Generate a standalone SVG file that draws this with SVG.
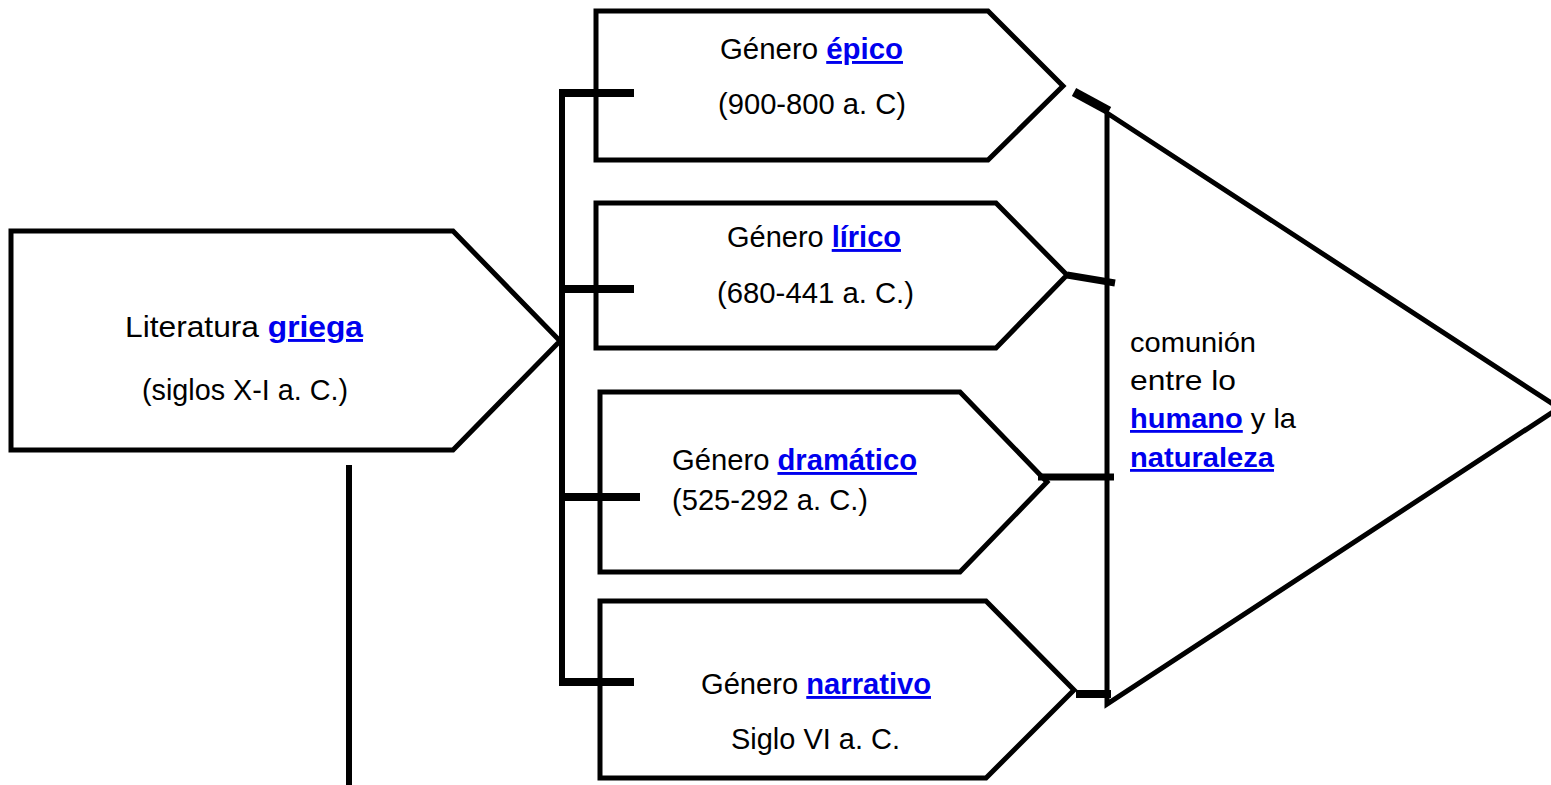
<svg xmlns="http://www.w3.org/2000/svg" width="1551" height="785" viewBox="0 0 1551 785">
<style>
.box{fill:#fff;stroke:#000;stroke-width:5;stroke-linejoin:miter}
.t{font-family:"Liberation Sans",Arial,sans-serif;font-size:29px;fill:#000}
.r{font-family:"Liberation Sans",Arial,sans-serif;font-size:28px;fill:#000}
.lnk{fill:#0000ee;font-weight:bold;text-decoration:underline}
.bus{stroke:#000;stroke-width:6;fill:none}
.tick{stroke:#000;stroke-width:8;fill:none}
</style>
<rect width="1551" height="785" fill="#fff"/>
<g id="node-griega">
<path class="box" d="M11,231 L453,231 L560,341 L453,450 L11,450 Z"/>
<text class="t" x="125" y="337" textLength="238" lengthAdjust="spacingAndGlyphs">Literatura <tspan class="lnk">griega</tspan></text>
<text class="t" x="142" y="400" textLength="206" lengthAdjust="spacingAndGlyphs">(siglos X-I a. C.)</text>
</g>
<g id="node-epico">
<path class="box" d="M596,11 L988,11 L1063,86 L988,160 L596,160 Z"/>
<text class="t" x="720" y="59" textLength="183" lengthAdjust="spacingAndGlyphs">Género <tspan class="lnk">épico</tspan></text>
<text class="t" x="718" y="114" textLength="188" lengthAdjust="spacingAndGlyphs">(900-800 a. C)</text>
</g>
<g id="node-lirico">
<path class="box" d="M596,203 L996,203 L1067,275 L996,348 L596,348 Z"/>
<text class="t" x="727" y="247" textLength="174" lengthAdjust="spacingAndGlyphs">Género <tspan class="lnk">lírico</tspan></text>
<text class="t" x="717" y="303" textLength="197" lengthAdjust="spacingAndGlyphs">(680-441 a. C.)</text>
</g>
<g id="node-dramatico">
<path class="box" d="M600,392 L960,392 L1047,482 L960,572 L600,572 Z"/>
<text class="t" x="672" y="470" textLength="245" lengthAdjust="spacingAndGlyphs">Género <tspan class="lnk">dramático</tspan></text>
<text class="t" x="672" y="510" textLength="196" lengthAdjust="spacingAndGlyphs">(525-292 a. C.)</text>
</g>
<g id="node-narrativo">
<path class="box" d="M600,601 L986,601 L1074,690 L986,778 L600,778 Z"/>
<text class="t" x="701" y="694" textLength="230" lengthAdjust="spacingAndGlyphs">Género <tspan class="lnk">narrativo</tspan></text>
<text class="t" x="731" y="749" textLength="169" lengthAdjust="spacingAndGlyphs">Siglo VI a. C.</text>
</g>
<g id="node-comunion">
<path class="box" d="M1107,113 L1559,408 L1107,704 Z"/>
<text class="r" x="1130" y="352" textLength="126" lengthAdjust="spacingAndGlyphs">comunión</text>
<text class="r" x="1130" y="390" textLength="106" lengthAdjust="spacingAndGlyphs">entre lo</text>
<text class="r" x="1130" y="428" textLength="166" lengthAdjust="spacingAndGlyphs"><tspan class="lnk">humano</tspan> y la</text>
<text class="r" x="1130" y="467" textLength="144" lengthAdjust="spacingAndGlyphs"><tspan class="lnk">naturaleza</tspan></text>
</g>
<g id="connectors">
<line class="bus" x1="562" y1="89" x2="562" y2="686"/>
<line class="tick" x1="559" y1="93" x2="634" y2="93"/>
<line class="tick" x1="559" y1="289" x2="634" y2="289"/>
<line class="tick" x1="559" y1="497" x2="640" y2="497"/>
<line class="tick" x1="559" y1="682" x2="634" y2="682"/>
<line class="bus" x1="349" y1="465" x2="349" y2="785"/>
<line stroke="#000" stroke-width="9" x1="1074" y1="92" x2="1109" y2="111"/>
<line stroke="#000" stroke-width="7" x1="1067" y1="275" x2="1115" y2="283"/>
<line stroke="#000" stroke-width="7" x1="1038" y1="477" x2="1114" y2="477"/>
<line stroke="#000" stroke-width="8" x1="1076" y1="694" x2="1111" y2="694"/>
</g>
</svg>
